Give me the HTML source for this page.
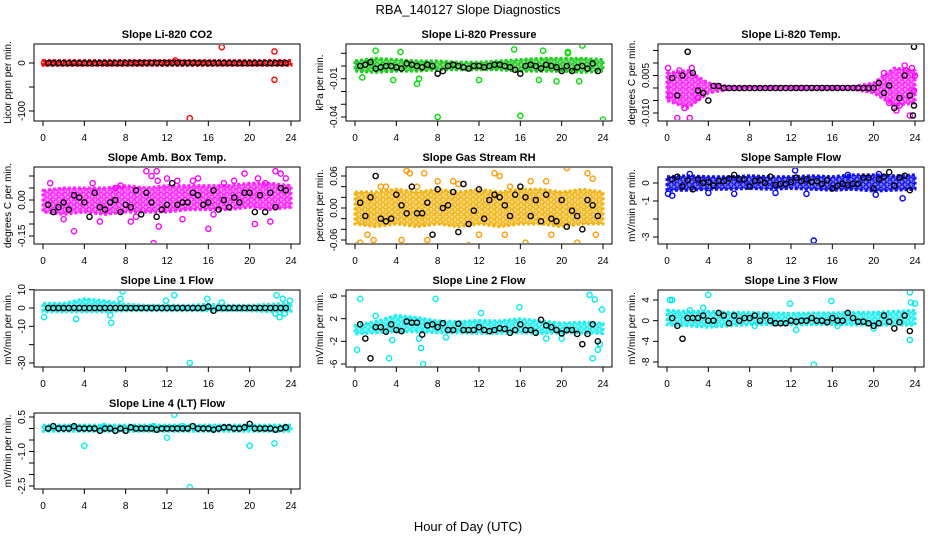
<!DOCTYPE html>
<html><head><meta charset="utf-8"><style>
body{margin:0;background:#fff;}
svg{display:block;font-family:"Liberation Sans",sans-serif;}
</style></head><body>
<svg id="chart" width="936" height="540" viewBox="0 0 936 540">
<defs id="defs"></defs>
<rect x="0" y="0" width="936" height="540" fill="#fff"/>
<text x="468" y="14" font-size="13" text-anchor="middle">RBA_140127  Slope Diagnostics</text>
<text x="468" y="531" font-size="13" text-anchor="middle">Hour of Day (UTC)</text>
</svg>
<script>
const xTicks=[0,4,8,12,16,20,24];
const bandHours=[0,2,4,6,8,10,12,14,16,18,20,22,24];
const halfHours=[0.5,1,1.5,2,2.5,3,3.5,4,4.5,5,5.5,6,6.5,7,7.5,8,8.5,9,9.5,10,10.5,11,11.5,12,12.5,13,13.5,14,14.5,15,15.5,16,16.5,17,17.5,18,18.5,19,19.5,20,20.5,21,21.5,22,22.5,23,23.5];

// P1 CO2
const co2Lo=[-5,-5,-5,-5,-5,-5,-5,-5,-5,-5,-5,-5,-5];
const co2Hi=[5,5,5,5,5,5,5,5,5,5,5,5,5];
const co2OutX=[0.1,12.8,14.2,17.3,22.4,22.4];
const co2OutY=[0,5,-115,33,24,-35];
const co2BlkY=[0,0,0,0,0,0,0,0,0,0,0,0,0,0,0,0,0,0,0,0,0,0,0,0,0,0,0,0,0,0,0,0,0,0,0,0,0,0,0,0,0,0,0,0,0,0,0];
const co2Ticks=[0,-50,-100];const co2Labels=["0","","-100"];
// P2 pressure
const presLo=[-0.004,-0.005,-0.004,-0.004,-0.003,-0.003,-0.003,-0.003,-0.004,-0.004,-0.004,-0.005,-0.004];
const presHi=[0.004,0.006,0.005,0.004,0.004,0.003,0.003,0.004,0.005,0.006,0.006,0.006,0.005];
const presOutX=[8,16,24,6,6.2,3.7,15.4,22,21.7,19.5,12,0.7,2,4.4,18.2,20.6,20.6,17.8];
const presOutY=[-0.040,-0.039,-0.042,-0.014,-0.010,-0.011,0.013,0.016,-0.012,-0.012,-0.011,-0.009,0.012,0.011,0.012,0.011,0.010,-0.011];
const presBlkY=[0,0.001,0.003,-0.002,-0.001,0,0,-0.001,-0.002,0.002,0.001,0,-0.001,0.001,0,-0.006,-0.004,0,0.001,0,-0.001,-0.002,0,0,-0.001,0,0.001,0.001,0,-0.001,-0.003,-0.006,0,0.001,0,-0.002,0.001,0,-0.001,-0.004,0,-0.004,-0.001,0,-0.002,0.002,-0.004];
const presTicks=[0.01,0,-0.01,-0.02,-0.03,-0.04];const presLabels=["","","-0.01","","","-0.04"];
// P3 temp
const tempLo=[-0.005,-0.008,-0.002,-0.0005,-0.0005,-0.0005,-0.0005,-0.0005,-0.0005,-0.0005,-0.002,-0.007,-0.006];
const tempHi=[0.006,0.007,0.002,0.0006,0.0006,0.0006,0.0006,0.0006,0.0006,0.0006,0.002,0.008,0.007];
const tempOutX=[0.1,1,1.7,2,2.2,2.4,1.2,22.7,23,23.1,23.7,24,22.5,23.5,21.5,0.3,3,21,22.2,23.9];
const tempOutY=[0.008,-0.012,-0.008,-0.014,-0.012,0.008,0.007,-0.016,0.009,0.007,0.008,0.005,-0.007,-0.011,-0.006,-0.003,-0.004,0.006,-0.009,-0.001];
const tempBlkX=halfHours.concat([23.9,23.9,23.8]);
const tempBlkY=[0.004,-0.003,0.005,0.0145,0.006,-0.001,-0.002,-0.005,0.0008,0.0008,0,0,0,0,0,0,0,0,0,0,0,0,0,0,0,0,0,0,0,0,0,0,0,0,0,0,0,0,0,0,0.002,-0.002,0.001,-0.008,-0.004,0.005,-0.003,0.0165,-0.007,-0.011];
const tempTicks=[0.015,0.01,0.005,0,-0.005,-0.01];const tempLabels=["","","0.005","","","-0.010"];
// P4 amb box
const ambLo=[-0.05,-0.06,-0.05,-0.06,-0.05,-0.05,-0.05,-0.04,-0.04,-0.04,-0.03,-0.04,-0.03];
const ambHi=[0.04,0.05,0.05,0.05,0.06,0.05,0.06,0.06,0.06,0.06,0.07,0.07,0.06];
const ambOutX=[0.7,2,4.8,5.5,7,8.5,10,10.5,10.7,11,11.2,11.1,12,13.5,14.5,15,16,17.5,18.5,19.5,20.8,22,22.5,23,23.5,3,7.5,9,13,16.5,20.5,21.5];
const ambOutY=[0.07,-0.08,0.07,-0.09,0.05,-0.09,0.12,0.10,-0.18,0.12,-0.11,0.08,0.09,-0.08,0.08,0.09,-0.12,0.07,0.08,0.11,0.09,-0.09,0.12,0.11,0.09,-0.13,0.06,-0.07,0.08,-0.06,-0.10,0.07];
const ambBlkY=[-0.02,-0.05,-0.03,-0.01,-0.04,0.02,0.01,-0.01,-0.07,0.03,-0.03,-0.04,-0.01,0,-0.05,-0.02,-0.03,0.04,-0.06,0.03,-0.01,-0.07,-0.04,-0.02,0.07,-0.02,-0.01,-0.01,0.03,0.02,-0.02,-0.01,0.04,-0.04,0,-0.03,0.01,-0.01,0.03,0.03,-0.05,0.02,-0.05,0.03,-0.03,0.05,0.04];
const ambTicks=[0.1,0.05,0,-0.05,-0.1,-0.15];const ambLabels=["","","0.00","","","-0.15"];
// P5 RH
const rhLo=[-0.03,-0.035,-0.03,-0.035,-0.03,-0.035,-0.03,-0.035,-0.03,-0.03,-0.035,-0.03,-0.03];
const rhHi=[0.03,0.03,0.035,0.03,0.035,0.03,0.035,0.03,0.035,0.035,0.03,0.035,0.03];
const rhOutX=[0.2,0.5,1.2,1.8,2.5,4.5,5,5.3,6.7,7,8,9.5,10,12,13.5,14,14.5,16.5,17,19,20.5,22.5,23,23.3,3,6,11,15,18.5,21.5];
const rhOutY=[-0.07,-0.065,-0.05,-0.06,0.04,-0.06,0.07,0.065,0.065,-0.06,0.05,0.05,0.045,-0.05,0.065,0.06,-0.05,-0.065,0.05,-0.05,0.075,0.065,0.055,-0.05,0.04,0.04,-0.07,0.04,0.05,-0.065];
const rhBlkY=[0.01,-0.015,0.02,0.06,-0.02,-0.025,-0.02,0.025,0.005,-0.01,0.04,-0.01,-0.01,0.01,-0.05,0.035,0,0.005,0.03,-0.045,0.045,-0.03,-0.005,0.035,-0.02,0.015,0.025,0.02,0.005,-0.015,0.025,0.04,0.02,-0.015,0.015,-0.025,0.025,-0.02,-0.025,0.015,-0.035,-0.005,-0.015,-0.04,0.015,0.005,-0.015];
const rhTicks=[0.06,0.04,0.02,0,-0.02,-0.04,-0.06];const rhLabels=["0.06","","","0.00","","","-0.06"];
// P6 sample flow
const sfLo=[-0.4,-0.4,-0.35,-0.35,-0.3,-0.35,-0.3,-0.35,-0.4,-0.35,-0.45,-0.4,-0.35];
const sfHi=[0.35,0.4,0.35,0.35,0.4,0.35,0.35,0.4,0.35,0.45,0.45,0.4,0.45];
const sfOutX=[0.1,0.5,14.2,12.4,22.8,20.2,20.5,4,6.5,10.5,13.5,2.2,17.5];
const sfOutY=[-0.6,-0.7,-3.2,0.7,-0.85,-0.65,0.5,-0.55,-0.6,-0.55,-0.6,0.5,0.45];
const sfBlkY=[0.2,0.35,-0.2,0.15,-0.35,0.2,0,0.05,-0.15,0.1,0.1,0.25,0.45,0.2,0.2,-0.2,0.1,0.15,0,0.35,-0.1,-0.05,-0.05,0.05,0.3,0.1,0.2,0.05,0.1,-0.05,0.15,-0.3,-0.15,-0.05,-0.1,-0.05,-0.05,0.3,0.3,-0.3,0.2,0.35,0.6,-0.15,0.3,0.4,-0.4];
const sfTicks=[0,-1,-2,-3];const sfLabels=["0","-1","","-3"];
// P7 line1
const l1Lo=[-2,-2,-2,-2,-1.5,-1.5,-1.5,-1.5,-1.5,-1.5,-1.5,-2,-2];
const l1Hi=[2.5,2.5,5,4,2,1.5,1.5,1.5,2,1.5,1.5,2,2.5];
const l1OutX=[0.1,3.2,6.6,6.5,7.7,7.5,12.7,11.9,14.2,15.9,17.3,22.6,23.2,23.9,22.9,22.5,23.4];
const l1OutY=[-5,-6,-8,-4,9,5,7,4,-30,5,3,7,5,4,-5,-3,-3];
const l1BlkY=[0,0,0,0,0,0,0,0,0,0,0,0,0,0,0,0,0,0,0,0,0,0,0,0,0,0,0,0,0,0,0,0.8,-1.5,0,0,0,0,0,0,0,0,0,0,0,0,0,0];
const l1Ticks=[10,0,-10,-20,-30];const l1Labels=["10","0","-10","","-30"];
// P8 line2
const l2Lo=[-0.7,-0.5,-0.3,-0.3,-0.5,-0.5,-0.6,-0.6,-0.5,-0.6,-0.5,-0.5,-0.6];
const l2Hi=[0.8,1.5,2.6,2.2,1.6,1.5,1.7,1.6,2,1.6,1.2,1.4,1.2];
const l2OutX=[0.2,0.5,3.3,6.6,6.4,7.8,22.7,23.2,23.9,23,23.5,15.9,12.2,6.2,8.8,3.6,2,18.5,20,23.7];
const l2OutY=[-3.5,5.5,-5,-6,-3.2,5.5,6.2,5.4,3.6,-5,-3.5,4,3,-1.5,-1.3,-1.8,2.5,-1.5,-1.5,-2.5];
const l2BlkY=[1,-1.5,-5,0.5,0.5,-0.3,1,0,-0.2,1.5,1.3,1.3,-0.8,0.8,1,0.5,1.2,0,0,1.1,0,0,0,0.5,0,-0.2,0,0.3,0.2,-0.5,0,1,0,0,-0.5,1.8,0.8,0.5,0,-0.6,0,0,-0.7,-2.5,-0.7,1,-2];
const l2Ticks=[6,2,-2,-6];const l2Labels=["6","2","-2","-6"];
// P9 line3
const l3Lo=[-0.8,-1,-1.3,-1,-0.8,-0.7,-0.8,-0.8,-0.7,-0.8,-0.9,-0.8,-0.9];
const l3Hi=[2,1.8,1.8,1.6,1.6,1.5,1.4,1.5,1.5,1.6,1.6,1.8,2];
const l3OutX=[0.3,0.5,4,14.2,23.5,23.6,23.5,11.9,15.9,2.2,3.5,8.5,12.5,16.5,20,24];
const l3OutY=[4,4,5,-8.5,5.5,3.5,-3.7,3.3,3.8,2,2.5,-1,-1.8,-1,-1.5,3.3];
const l3BlkY=[0.5,-1,-3.5,0.5,0.5,0.5,1,0,0,1.5,1,-0.5,1,0,0.5,0.5,1,0,1,0,-0.5,-0.5,-0.5,0,-0.2,0,0,0.5,0,0,-0.3,0.5,0,0,1.5,0.5,-0.2,-0.2,-0.5,-1,-0.5,1,-0.2,-1.5,-0.3,1,-2];
const l3Ticks=[4,0,-4,-8];const l3Labels=["4","0","-4","-8"];
// P10 line4
const l4Lo=[-0.12,-0.12,-0.12,-0.12,-0.12,-0.12,-0.12,-0.12,-0.12,-0.12,-0.12,-0.12,-0.12];
const l4Hi=[0.15,0.15,0.15,0.15,0.15,0.15,0.15,0.15,0.15,0.15,0.15,0.15,0.15];
const l4OutX=[4,12,12.7,14.2,20,22.4,5.9,10.7,13.5,8];
const l4OutY=[-0.75,-0.4,0.6,-2.55,-0.75,-0.65,0.1,0.1,0.1,-0.1];
const l4BlkY=[0,0.1,0,0,0,0.1,0,0,0,0,-0.1,0,0,-0.1,0,-0.1,0.05,0,0,0,0,-0.05,0,0,0,0,0,0,0.1,0,0,0,-0.05,0,0.05,0.05,0,0,0.05,0.2,0,0,0,0,-0.05,0,0.05];
const l4Ticks=[0.5,0,-0.5,-1,-1.5,-2,-2.5];const l4Labels=["0.5","","","-1.0","","","-2.5"];

const NS="http://www.w3.org/2000/svg";
const svg=document.getElementById('chart');
const defs=document.getElementById('defs');
function mk(tag,attrs,parent){const e=document.createElementNS(NS,tag);for(const k in attrs)e.setAttribute(k,attrs[k]);(parent||svg).appendChild(e);return e;}
const patMade={};
function pattern(color){
  const id='pat'+color.replace('#','');
  if(patMade[id])return id;
  patMade[id]=1;
  const p=mk('pattern',{id:id,width:6,height:5,patternUnits:'userSpaceOnUse'},defs);
  mk('rect',{x:0,y:0,width:6,height:5,fill:color,'fill-opacity':0.55},p);
  mk('circle',{cx:2,cy:2,r:2.2,fill:'none',stroke:color,'stroke-width':1.3},p);
  mk('circle',{cx:5,cy:4.5,r:2.2,fill:'none',stroke:color,'stroke-width':1.3},p);
  return id;
}
const colL=[34,346,658],colR=[300,612,924],colX0=[43,355,667],colX24=[291,603,915];
const rowT=[44,167,290,413],rowB=[121,244,367,489];

function panel(key,title,ylab,col,row,ref,color,fillc,lo,hi,ox,oy,bx,by,ticks,labels){
  const g=mk('g',{});
  
  
  const L=colL[col],R=colR[col],T=rowT[row],B=rowB[row];
  const xs=h=>colX0[col]+h*(colX24[col]-colX0[col])/24;
  const k=(ref[3]-ref[1])/(ref[2]-ref[0]);
  const ys=v=>ref[1]+(v-ref[0])*k;
  const clipId='clip-'+key;
  const cp=mk('clipPath',{id:clipId},g);mk('rect',{x:L+1,y:T+1,width:R-L-2,height:B-T-2},cp);
  const pg=mk('g',{'clip-path':'url(#'+clipId+')'},g);
  let pts=[];
  for(let i=0;i<bandHours.length;i++)pts.push(xs(bandHours[i]).toFixed(1)+','+ys(hi[i]).toFixed(1));
  for(let i=bandHours.length-1;i>=0;i--)pts.push(xs(bandHours[i]).toFixed(1)+','+ys(lo[i]).toFixed(1));
  const pid=pattern(fillc);
  const band=mk('polygon',{points:pts.join(' '),fill:'url(#'+pid+')',stroke:fillc,'stroke-width':3,'stroke-linejoin':'round','stroke-dasharray':'3 2'},pg);
  
  
  for(let i=0;i<Math.min(ox.length,oy.length);i++){
    const c=mk('circle',{cx:xs(ox[i]),cy:ys(oy[i]),r:2.6,fill:'none',stroke:color,'stroke-width':1.4},pg);
    
    
  }
  for(let i=0;i<Math.min(bx.length,by.length);i++){
    const c=mk('circle',{cx:xs(bx[i]),cy:ys(by[i]),r:2.6,fill:'none',stroke:'#000','stroke-width':1.4},pg);
    
    
  }
  const box=mk('rect',{x:L,y:T,width:R-L,height:B-T,fill:'none',stroke:'#000','stroke-width':1},g);
  
  
  const tt=mk('text',{x:(L+R)/2,y:T-6,'font-size':11,'font-weight':'bold','text-anchor':'middle'},g);
  tt.textContent=title;
  
  
  mk('line',{x1:xs(0),x2:xs(24),y1:B,y2:B,stroke:'#000'},g);
  for(const t of xTicks){
    mk('line',{x1:xs(t),x2:xs(t),y1:B,y2:B+5,stroke:'#000'},g);
    const lt=mk('text',{x:xs(t),y:B+20,'font-size':10,'text-anchor':'middle'},g);
    lt.textContent=String(t);
    
    
  }
  mk('line',{x1:L,x2:L,y1:ys(ticks[0]),y2:ys(ticks[ticks.length-1]),stroke:'#000'},g);
  for(let i=0;i<ticks.length;i++){
    const y=ys(ticks[i]);
    mk('line',{x1:L-5,x2:L,y1:y,y2:y,stroke:'#000'},g);
    if(labels[i]){
      const lt=mk('text',{x:L-9,y:y,'font-size':10,'text-anchor':'middle',transform:'rotate(-90 '+(L-9)+' '+y+')'},g);
      lt.textContent=labels[i];
      
      
    }
  }
  const yc=(T+B)/2,yx=L-23;
  const yt=mk('text',{x:yx,y:yc,'font-size':10,'text-anchor':'middle',transform:'rotate(-90 '+yx+' '+yc+')'},g);
  yt.textContent=ylab;
  
  
}
panel('co2','Slope Li-820 CO2','Licor ppm per min.',0,0,[0,63,-100,111],'#ff0000','#ff0000',co2Lo,co2Hi,co2OutX,co2OutY,halfHours,co2BlkY,co2Ticks,co2Labels);
panel('pressure','Slope Li-820 Pressure','kPa per min.',1,0,[0,66,-0.04,117],'#00dd00','#22cc22',presLo,presHi,presOutX,presOutY,halfHours,presBlkY,presTicks,presLabels);
panel('temp','Slope Li-820 Temp.','degrees C per min.',2,0,[0,88,-0.01,113],'#ff00ff','#ff22ff',tempLo,tempHi,tempOutX,tempOutY,tempBlkX,tempBlkY,tempTicks,tempLabels);
panel('amb-box','Slope Amb. Box Temp.','degrees C per min.',0,1,[0,200,-0.15,236],'#ff00ff','#ff22ff',ambLo,ambHi,ambOutX,ambOutY,halfHours,ambBlkY,ambTicks,ambLabels);
panel('gas-rh','Slope Gas Stream RH','percent per min.',1,1,[0,208,0.06,176],'#ff9900','#f2b415',rhLo,rhHi,rhOutX,rhOutY,halfHours,rhBlkY,rhTicks,rhLabels);
panel('sample-flow','Slope Sample Flow','mV/min per min.',2,1,[0,183,-3,237],'#0000ff','#1010ee',sfLo,sfHi,sfOutX,sfOutY,halfHours,sfBlkY,sfTicks,sfLabels);
panel('line1','Slope Line 1 Flow','mV/min per min.',0,2,[0,308,-30,363],'#00eeee','#22eeee',l1Lo,l1Hi,l1OutX,l1OutY,halfHours,l1BlkY,l1Ticks,l1Labels);
panel('line2','Slope Line 2 Flow','mV/min per min.',1,2,[6,296,-6,364],'#00eeee','#22eeee',l2Lo,l2Hi,l2OutX,l2OutY,halfHours,l2BlkY,l2Ticks,l2Labels);
panel('line3','Slope Line 3 Flow','mV/min per min.',2,2,[4,300,-8,362],'#00eeee','#22eeee',l3Lo,l3Hi,l3OutX,l3OutY,halfHours,l3BlkY,l3Ticks,l3Labels);
panel('line4','Slope Line 4 (LT) Flow','mV/min per min.',0,3,[0.5,417,-2.5,486],'#00eeee','#22eeee',l4Lo,l4Hi,l4OutX,l4OutY,halfHours,l4BlkY,l4Ticks,l4Labels);
</script>
</body></html>
